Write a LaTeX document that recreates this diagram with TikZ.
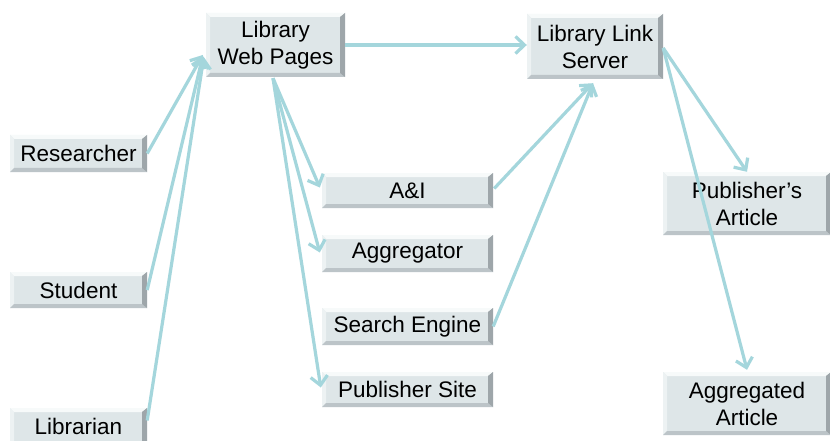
\documentclass[tikz,border=0pt]{standalone}
\usepackage{fontspec}
\setmainfont{Liberation Sans}
\usetikzlibrary{arrows.meta,calc}
\definecolor{link}{RGB}{164,214,220}
\definecolor{boxfill}{RGB}{222,230,232}
\definecolor{bevR}{RGB}{158,166,170}
\definecolor{bevB}{RGB}{188,196,200}
\definecolor{bevT}{RGB}{247,250,250}
\definecolor{bevL}{RGB}{237,242,243}
\definecolor{boxshade}{RGB}{205,210,212}
\tikzset{
  box/.style={rectangle, fill=boxfill, inner sep=0pt, align=center,
    font=\fontsize{22.5}{27}\selectfont,
    path picture={
      \fill[bevT] (path picture bounding box.north west) -- (path picture bounding box.north east)
        -- ([shift={(-5pt,-4pt)}]path picture bounding box.north east)
        -- ([shift={(4pt,-4pt)}]path picture bounding box.north west) -- cycle;
      \fill[bevL] (path picture bounding box.north west) -- (path picture bounding box.south west)
        -- ([shift={(4pt,4pt)}]path picture bounding box.south west)
        -- ([shift={(4pt,-4pt)}]path picture bounding box.north west) -- cycle;
      \fill[bevB] (path picture bounding box.south west) -- (path picture bounding box.south east)
        -- ([shift={(-5pt,4pt)}]path picture bounding box.south east)
        -- ([shift={(4pt,4pt)}]path picture bounding box.south west) -- cycle;
      \fill[bevR] (path picture bounding box.north east) -- (path picture bounding box.south east)
        -- ([shift={(-5pt,4pt)}]path picture bounding box.south east)
        -- ([shift={(-5pt,-4pt)}]path picture bounding box.north east) -- cycle;
    }},
  conn/.style={draw=link, line width=3.2pt,
    -{Straight Barb[length=9pt,width=17pt,line width=3.2pt]}},
}
\begin{document}
\begin{tikzpicture}[x=1pt,y=-1pt]
  \useasboundingbox[fill=white] (0,0) rectangle (830,441);

  % boxes
  \node[box, minimum width=139pt, minimum height=64pt] (lwp) at (275.5,45) {Library\\Web Pages};
  \node[box, minimum width=136pt, minimum height=65pt] (lls) at (595,46.5) {Library Link\\Server};

  \node[box, minimum width=137pt, minimum height=37pt] (res) at (78.5,153.5) {Researcher};
  \node[box, minimum width=137pt, minimum height=36pt] (stu) at (78.5,290) {Student};
  \node[box, minimum width=137pt, minimum height=37pt] (lib) at (78.5,426.5) {Librarian};

  \node[box, minimum width=171pt, minimum height=35pt] (ai)  at (407.5,190.5) {A\&I};
  \node[box, minimum width=171pt, minimum height=37pt] (agg) at (407.5,253.5) {Aggregator};
  \node[box, minimum width=171pt, minimum height=37pt] (se)  at (407.5,326.5) {Search Engine};
  \node[box, minimum width=171pt, minimum height=35pt] (ps)  at (407.5,389.5) {Publisher Site};

  \node[box, minimum width=168pt, minimum height=63pt] (pa) at (747,203.5) {Publisher’s\\Article};
  \node[box, minimum width=168pt, minimum height=63pt] (aa) at (747,403.5) {Aggregated\\Article};

  % users into the library web pages
  \draw[conn] (res.east) -- ($(lwp.west)+(-3,10)$);
  \draw[conn] (stu.east) -- ($(lwp.west)+(-3,11)$);
  \draw[conn] ($(lib.east)+(0,-6)$) -- ($(lwp.west)+(-2,12)$);

  % library web pages out to resources
  \coordinate (lwpout) at ($(lwp.south)+(-2.5,1)$);
  \draw[conn] (lwpout) -- ($(ai.west)+(-2,-3)$);
  \draw[conn] (lwpout) -- ($(agg.west)+(-2,-1)$);
  \draw[conn] (lwpout) -- ($(ps.west)+(-1,-2)$);
  \draw[conn] (lwp.east) -- (lwp.east -| lls.west);

  % resources into the link server
  \coordinate (llsin) at ($(lls.south)+(-2,4)$);
  \draw[conn] ($(ai.east)+(1,-2)$) -- (llsin);
  \draw[conn] (se.east) -- (llsin);

  % link server out to articles
  \coordinate (llsout) at ($(lls.east)+(0,1.5)$);
  \draw[conn] (llsout) -- (pa.north);
  \draw[conn] (llsout) -- ($(aa.north)+(0,-2)$);
\end{tikzpicture}
\end{document}
